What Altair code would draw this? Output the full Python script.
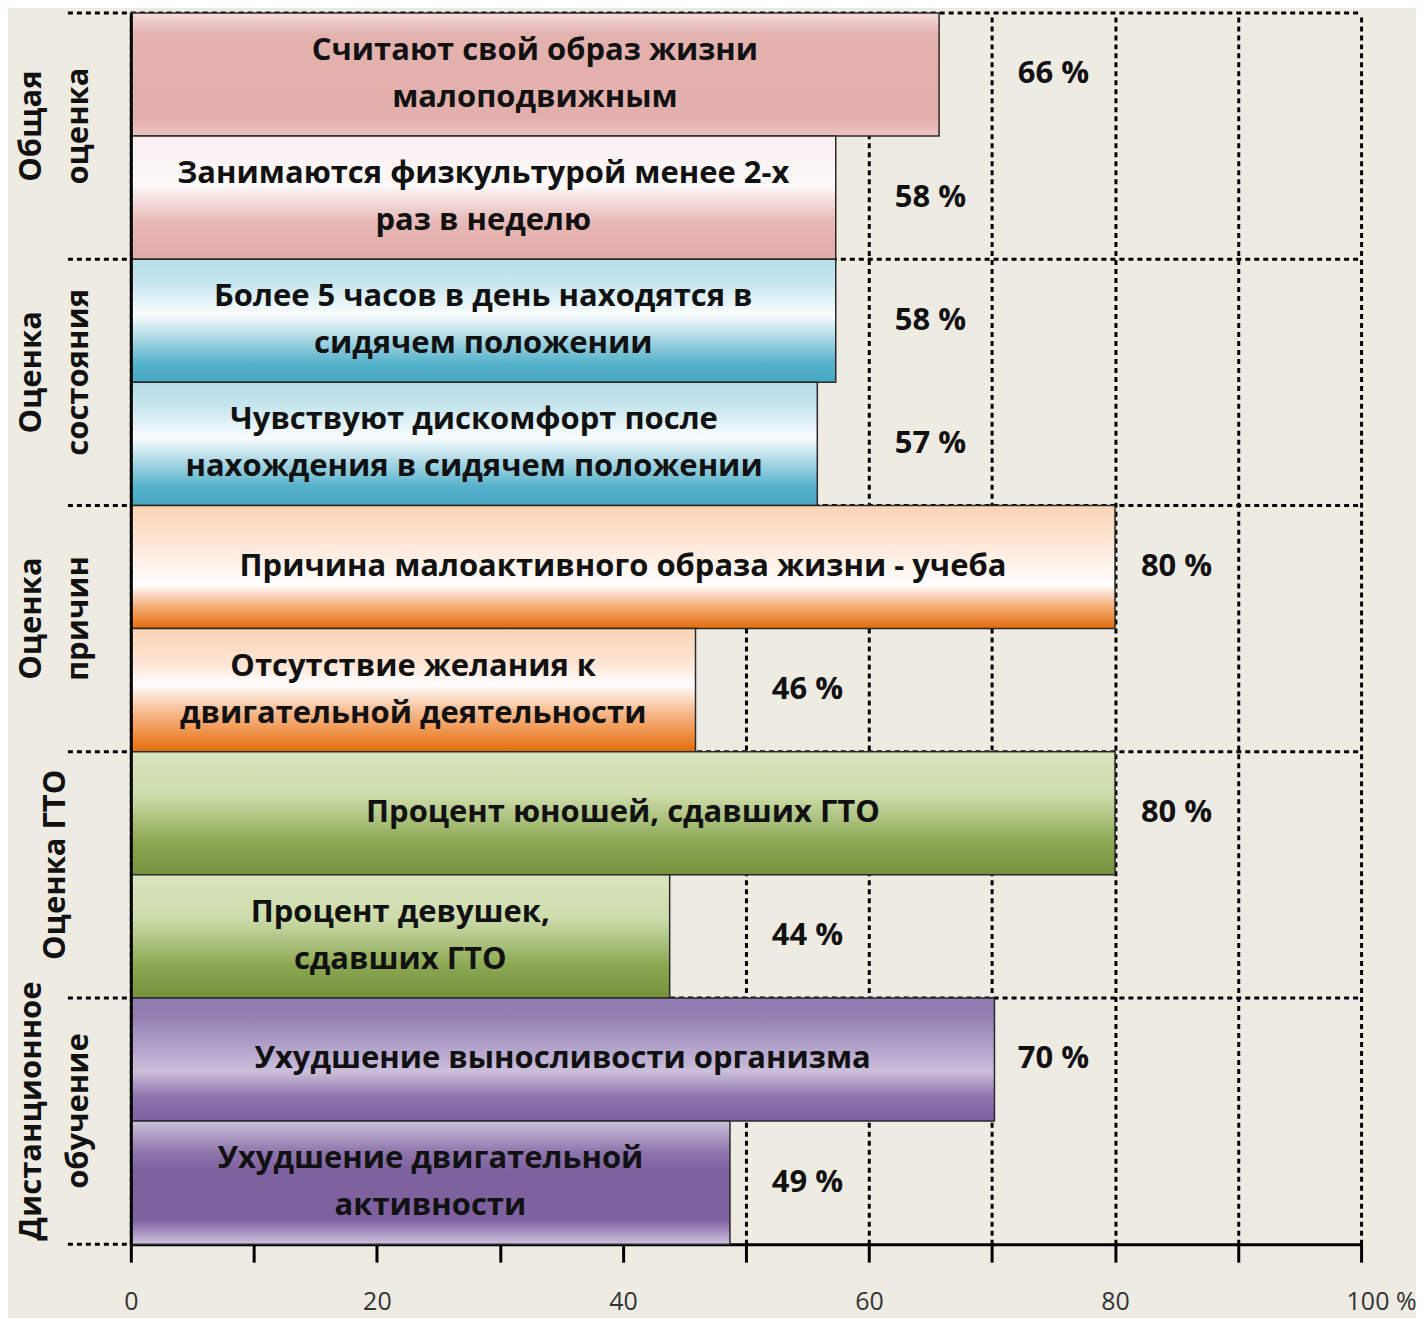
import altair as alt
import pandas as pd

# ---------------- data ----------------
bar_text = [
    "Считают свой образ жизни\nмалоподвижным",
    "Занимаются физкультурой менее 2-х\nраз в неделю",
    "Более 5 часов в день находятся в\nсидячем положении",
    "Чувствуют дискомфорт после\nнахождения в сидячем положении",
    "Причина малоактивного образа жизни - учеба",
    "Отсутствие желания к\nдвигательной деятельности",
    "Процент юношей, сдавших ГТО",
    "Процент девушек,\nсдавших ГТО",
    "Ухудшение выносливости организма",
    "Ухудшение двигательной\nактивности",
]
bar_values = [65.7, 57.3, 57.3, 55.8, 80.0, 45.9, 80.0, 43.8, 70.2, 48.7]
label_values = [66, 58, 58, 57, 80, 46, 80, 44, 70, 49]
group_names = ["Общая\nоценка", "Оценка\nсостояния", "Оценка\nпричин",
               "Оценка ГТО", "Дистанционное\nобучение"]
bar_group = [0, 0, 1, 1, 2, 2, 3, 3, 4, 4]
x_ticks = [0, 10, 20, 30, 40, 50, 60, 70, 80, 90, 100]

# ---------------- styles ----------------
def grad(stops):
    return alt.Gradient(
        gradient="linear", x1=0, y1=0, x2=0, y2=1,
        stops=[alt.GradientStop(offset=o, color=c) for o, c in stops],
    )

GRADIENTS = [
    grad([(0, "#f4dcdb"), (0.18, "#e3b1ae"), (0.85, "#e2afac"), (1, "#ebc4c2")]),
    grad([(0, "#f9eeee"), (0.4, "#fdf9f9"), (0.7, "#e6b8b5"), (1, "#e1aaa7")]),
    grad([(0, "#b5dde8"), (0.2, "#c7e6ee"), (0.45, "#fafdfe"), (0.85, "#55b1ca"), (1, "#47a8c3")]),
    grad([(0, "#b5dde8"), (0.2, "#c7e6ee"), (0.45, "#fafdfe"), (0.85, "#55b1ca"), (1, "#47a8c3")]),
    grad([(0, "#fbd3b4"), (0.3, "#fde6d6"), (0.65, "#ffffff"), (0.8, "#f6b585"), (1, "#e46c0a")]),
    grad([(0, "#fbd3b4"), (0.3, "#fde6d6"), (0.45, "#ffffff"), (0.7, "#f6b585"), (1, "#e46c0a")]),
    grad([(0, "#d8e4bf"), (0.35, "#cddcab"), (0.75, "#8aa650"), (1, "#76923c")]),
    grad([(0, "#d8e4bf"), (0.35, "#cddcab"), (0.75, "#8aa650"), (1, "#76923c")]),
    grad([(0, "#8f7bb0"), (0.15, "#9380b2"), (0.35, "#ab9bc6"), (0.6, "#cbbfdb"),
          (0.8, "#8e76ad"), (1, "#7d60a0")]),
    grad([(0, "#ccc1da"), (0.25, "#8e76ad"), (0.4, "#7e62a0"), (0.8, "#7e62a0"), (1, "#cdc2dd")]),
]

FONT = "Open Sans"
W, H = 1232, 1233
LH = 47
TXT_SIZE = 31
DASH = [5, 4]
DASH_W = 3

df = pd.DataFrame({
    "id": list(range(len(bar_text))),
    "text": bar_text,
    "value": bar_values,
    "num": label_values,
    "group": bar_group,
})
df["multi"] = df["text"].str.contains("\n")

gdf = pd.DataFrame({
    "gname": group_names,
    "first": [bar_group.index(g) for g in range(len(group_names))],
})
gdf["multi"] = gdf["gname"].str.contains("\n")
last_df = pd.DataFrame({"last": [len(bar_text) - 1]})

yscale = alt.Scale(domain=list(range(len(bar_text))), paddingInner=0, paddingOuter=0)
xscale = alt.Scale(domain=[0, 100], nice=False, zero=True)

x_axis = alt.Axis(
    values=x_ticks,
    labelExpr="datum.value % 20 == 0 ? (datum.value == 100 ? '100  %' : datum.label) : ''",
    title=None,
    grid=True, gridColor="#000000", gridDash=DASH, gridWidth=DASH_W,
    domainColor="#000000", domainWidth=3,
    tickColor="#000000", tickWidth=3, tickSize=18,
    labelFont=FONT, labelFontSize=25, labelColor="#333333",
    labelPadding=27, labelFlush=False,
    labelOffset={"condition": {"test": "datum.value == 100", "value": 20}, "value": 0},
    zindex=0,
)
y_axis = alt.Axis(labels=False, ticks=False, title=None, grid=False,
                  domainColor="#000000", domainWidth=3, zindex=1)

base = alt.Chart(df)

# group boundary rules (top of each group + bottom)
rules_top = alt.Chart(gdf).mark_rule(color="#000000", strokeDash=DASH, strokeWidth=DASH_W).encode(
    y=alt.Y("first:O", scale=yscale, bandPosition=0, axis=y_axis),
    x=alt.value(-63), x2=alt.value(W),
)
rules_bottom = alt.Chart(last_df).mark_rule(color="#000000", strokeDash=DASH, strokeWidth=DASH_W).encode(
    y=alt.Y("last:O", scale=yscale, bandPosition=1),
    x=alt.value(-63), x2=alt.value(0),
)

bars = []
for i in range(len(bar_text)):
    bars.append(
        base.transform_filter(alt.datum.id == i).mark_bar(
            fill=GRADIENTS[i], stroke="#2a2a2a", strokeWidth=1.5
        ).encode(
            x=alt.X("value:Q", scale=xscale, axis=x_axis),
            y=alt.Y("id:O", scale=yscale),
        )
    )


def bar_texts(multi):
    test = "datum.multi" if multi else "!datum.multi"
    return base.transform_filter(test).transform_calculate(
        mid="datum.value / 2"
    ).mark_text(
        align="center", baseline="middle", lineBreak="\n", font=FONT,
        fontWeight="bold", fontSize=TXT_SIZE, lineHeight=LH, color="#111111",
        dy=-LH / 2 if multi else 0,
    ).encode(
        x=alt.X("mid:Q", scale=xscale),
        y=alt.Y("id:O", scale=yscale),
        text="text:N",
    )


vals = base.transform_calculate(
    pos="ceil(datum.num / 10) * 10 + 5",
    lab="datum.num + ' %'",
).mark_text(
    align="center", baseline="middle", font=FONT,
    fontWeight="bold", fontSize=31, color="#111111",
).encode(
    x=alt.X("pos:Q", scale=xscale),
    y=alt.Y("id:O", scale=yscale),
    text="lab:N",
)


def group_texts(multi):
    test = "datum.multi" if multi else "!datum.multi"
    return alt.Chart(gdf).transform_filter(test).mark_text(
        align="center", baseline="middle", lineBreak="\n", font=FONT,
        fontWeight="bold", fontSize=31, lineHeight=LH, angle=270, color="#111111",
        dy=-LH / 2 if multi else 0, dx=10,
    ).encode(
        x=alt.value(-75),
        y=alt.Y("first:O", scale=yscale, bandPosition=1),
        text="gname:N",
    )


chart = alt.layer(
    rules_top, rules_bottom, *bars,
    bar_texts(True), bar_texts(False), vals,
    group_texts(True), group_texts(False),
).properties(
    width=W, height=H,
    autosize="none",
    padding={"left": 123, "top": 4, "right": 55, "bottom": 73},
    background="#eeebe3",
).configure_view(stroke=None)

chart.save("out.html", embed_options={"renderer": "svg", "actions": False})
